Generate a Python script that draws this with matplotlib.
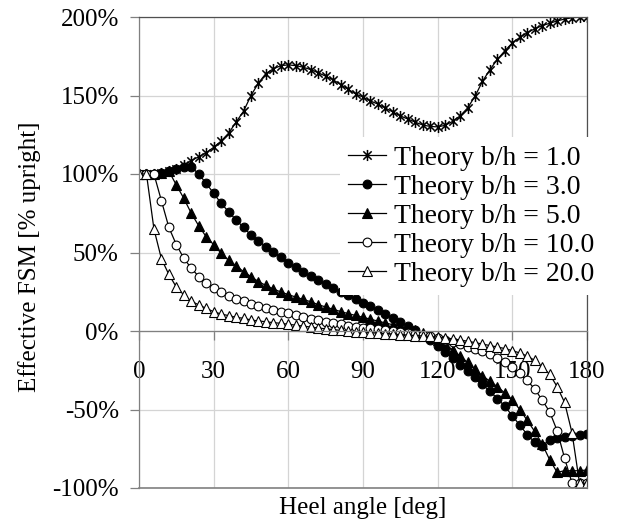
import matplotlib
matplotlib.use("Agg")
import matplotlib.pyplot as plt
from matplotlib.path import Path

plt.rcParams["font.family"] = ["Liberation Serif", "DejaVu Serif"]

# ── Data ──────────────────────────────────────────────────────
heel_deg = [0, 3, 6, 9, 12, 15, 18, 21, 24, 27,
            30, 33, 36, 39, 42, 45, 48, 51, 54, 57,
            60, 63, 66, 69, 72, 75, 78, 81, 84, 87,
            90, 93, 96, 99, 102, 105, 108, 111, 114, 117,
            120, 123, 126, 129, 132, 135, 138, 141, 144, 147,
            150, 153, 156, 159, 162, 165, 168, 171, 174, 177, 180]

fsm_bh_1 = [100, 100, 100.3, 100.8, 101.8, 103.2, 105.5, 108.5, 111, 113.5,
            117, 121, 126, 133, 140, 150, 158, 164, 167, 169,
            169.5, 169, 168, 166.5, 164.5, 162.3, 160, 157, 154, 151,
            149, 146.5, 144.5, 142, 139.5, 137, 135, 133, 131.2, 130.3,
            130, 131, 133.5, 137, 142, 149.5, 159, 166.5, 173, 178.5,
            183.5, 187, 190, 192.5, 194.5, 196, 197.5, 198.7, 199.5, 200, 200]

fsm_bh_3 = [100, 100, 100.3, 100.8, 101.8, 103, 104.5, 104.5, 100, 94,
            87.7, 81.3, 76, 70.7, 66, 61, 57.6, 53.5, 50.5, 47,
            43.5, 40.5, 37.5, 34.8, 32.2, 29.7, 27.3, 25, 22.8, 20.5,
            18, 15.7, 13.2, 10.6, 8.1, 5.7, 3.2, 0.5, -2.5, -6,
            -9.5, -13.5, -17.5, -21.5, -25.5, -29.5, -34, -38.5, -43, -48,
            -54, -60, -66, -71, -73, -69.5, -68.3, -67.2, -66.7, -66, -65.6]

fsm_bh_5 = [100, 100, 100.3, 100.8, 101.8, 93, 84.5, 75, 67, 60,
            55, 49.5, 45, 41.6, 37.8, 34.6, 31.5, 29, 26.8, 24.8,
            23.2, 21.6, 20.1, 18.6, 16.8, 15.3, 13.8, 12.4, 11.1, 9.9,
            8.7, 7.5, 6.3, 5.1, 4, 2.9, 1.7, 0.4, -1, -3,
            -5.5, -8.5, -12, -16, -20, -24.5, -28.5, -32, -35.5, -39.5,
            -44, -50, -57, -64, -72, -82, -90, -89, -89, -89, -88.5]

fsm_bh_10 = [100, 100, 100, 83, 66, 55, 46.3, 40, 34.7, 30.5,
             27.7, 24.8, 22.5, 20.5, 18.8, 17.1, 15.7, 14.6, 13.4, 12.3,
             11.2, 10, 8.8, 7.8, 6.8, 5.9, 5, 4.2, 3.5, 2.8,
             2.2, 1.7, 1.2, 0.7, 0.2, -0.4, -1, -1.7, -2.5, -3.5,
             -4.6, -5.8, -7.1, -8.5, -9.9, -11.3, -12.8, -14.8, -17.2, -19.8,
             -22.8, -26.8, -31.5, -37, -44, -51.5, -63.5, -81, -97, -97, -97]

fsm_bh_20 = [100, 100, 65, 46, 36, 28, 23, 19, 16.6, 14.4,
             12.3, 10.8, 9.8, 8.7, 8.1, 7, 6.4, 5.9, 5.3, 4.9,
             4.3, 3.7, 3.1, 2.5, 1.9, 1.4, 0.9, 0.4, 0, -0.4,
             -0.8, -1.1, -1.4, -1.7, -2, -2.3, -2.6, -2.9, -3.2, -3.5,
             -3.9, -4.4, -5, -5.7, -6.5, -7.4, -8.3, -9.3, -10.2, -11.2,
             -12.5, -14, -16, -18.7, -23, -27.5, -35.5, -45.5, -65, -97, -97]

series_labels = ["Theory b/h = 1.0", "Theory b/h = 3.0", "Theory b/h = 5.0",
                 "Theory b/h = 10.0", "Theory b/h = 20.0"]

xtick_vals = [0, 30, 60, 90, 120, 150, 180]
ytick_vals = [-100, -50, 0, 50, 100, 150, 200]
ytick_labels = ["-100%", "-50%", "0%", "50%", "100%", "150%", "200%"]

# ── Excel-like "star" marker: X with a vertical bar ──────────
star = Path([(0, -1), (0, 1), (-0.75, -0.75), (0.75, 0.75), (-0.75, 0.75), (0.75, -0.75)],
            [Path.MOVETO, Path.LINETO, Path.MOVETO, Path.LINETO, Path.MOVETO, Path.LINETO])

styles = [
    dict(marker=star, markersize=8, markerfacecolor="black", markeredgewidth=1.1),
    dict(marker="o", markersize=6.3, markerfacecolor="black", markeredgewidth=0.8),
    dict(marker="^", markersize=7, markerfacecolor="black", markeredgewidth=0.8),
    dict(marker="o", markersize=6.3, markerfacecolor="white", markeredgewidth=0.8),
    dict(marker="^", markersize=7, markerfacecolor="white", markeredgewidth=0.8),
]

fig = plt.figure(figsize=(6.19, 5.24), dpi=100)
ax = fig.add_axes([139 / 619, 1 - 488 / 524, 448 / 619, 471 / 524])

for y, lab, st in zip([fsm_bh_1, fsm_bh_3, fsm_bh_5, fsm_bh_10, fsm_bh_20],
                      series_labels, styles):
    ax.plot(heel_deg, y, color="black", linewidth=0.9, markeredgecolor="black",
            label=lab, **st)

ax.set_xlim(0, 180)
ax.set_ylim(-100, 200)
ax.set_xticks(xtick_vals)
ax.set_yticks(ytick_vals, labels=ytick_labels)
ax.grid(True, color="#d4d4d4", linewidth=0.9)

# x axis crosses at 0 %
ax.spines["bottom"].set_position(("data", 0))
ax.spines["bottom"].set_color("#808080")
ax.spines["left"].set_color("#808080")
ax.spines["top"].set_color("#505050")
ax.spines["right"].set_color("#505050")
for s in ax.spines.values():
    s.set_linewidth(0.9)
ax.axhline(-100, color="#808080", linewidth=1.2, clip_on=False, zorder=3)

ax.tick_params(axis="both", direction="out", length=6.5, width=0.9,
               color="#808080", labelsize=18)
ax.tick_params(axis="x", pad=15)
ax.tick_params(axis="y", pad=8)

ax.set_xlabel("Heel angle [deg]", fontsize=18)
ax.xaxis.set_label_coords(0.5, -0.042)
ax.xaxis.label.set_va("center")
ax.set_ylabel("Effective FSM [% upright]", fontsize=18)
ax.yaxis.set_label_coords(-0.245, 0.49)
ax.yaxis.label.set_va("center")

leg = ax.legend(loc="upper left", bbox_to_anchor=(340 / 619, 1 - 137 / 524),
                bbox_transform=fig.transFigure, borderaxespad=0, fontsize=20,
                frameon=True, fancybox=False, framealpha=1, edgecolor="none",
                facecolor="white", handlelength=1.35, handletextpad=0.3,
                borderpad=0.3, labelspacing=0.13)

fig.savefig("out.png", dpi=100)
